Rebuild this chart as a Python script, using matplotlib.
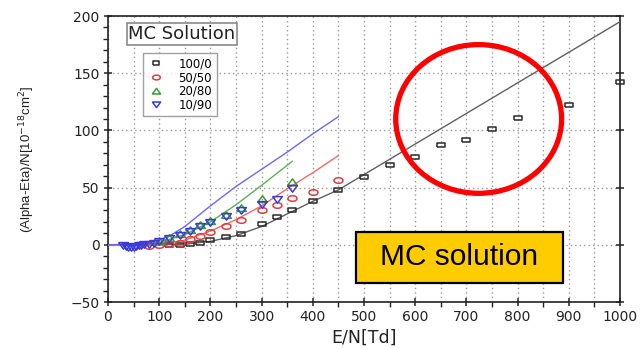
import matplotlib
matplotlib.use("Agg")
import matplotlib.pyplot as plt
import numpy as np
from matplotlib.lines import Line2D
from matplotlib.patches import Ellipse, Rectangle
from matplotlib.ticker import MultipleLocator

plt.rcParams["font.family"] = "DejaVu Sans"

# 100/0 mixture: MC points and fitted curve
sq_x = [120, 140, 160, 180, 200, 230, 260, 300, 330, 360, 400, 450, 500,
        550, 600, 650, 700, 750, 800, 900, 1000]
sq_y = [-0.5, 0, 0.5, 2, 4, 7, 9.5, 18.5, 24, 30, 38.5, 48, 59,
        70, 77, 87, 92, 101, 111, 122, 142]
sq_fit_x = [0, 100, 150, 200, 250, 300, 350, 400, 450, 1000]
sq_fit_y = [0, 0, 0.5, 3, 8, 16, 27, 38, 48, 195]

# 50/50 mixture
ci_x = [80, 100, 120, 140, 160, 180, 200, 230, 260, 300, 330, 360, 400, 450]
ci_y = [-1, -0.5, 0.5, 2, 5, 8, 11.5, 16.5, 22, 30, 35, 40.5, 46, 56.5]
ci_fit_x = [0, 80, 100, 150, 200, 250, 300, 350, 400, 450]
ci_fit_y = [0, 0, 0.5, 4, 12, 22, 34, 49, 63, 78]

# 20/80 mixture
tu_x = [100, 120, 140, 160, 180, 200, 230, 260, 300, 360]
tu_y = [3, 6, 9.5, 13, 17, 21, 26, 32.5, 40, 54.5]
tu_fit_x = [0, 80, 100, 150, 200, 250, 300, 360]
tu_fit_y = [0, 0.5, 2, 9, 20, 35, 52, 73]

# 10/90 mixture
td_x = [30, 35, 40, 45, 50, 55, 60, 65, 70, 80, 90, 100, 120, 140, 160,
        180, 200, 230, 260, 300, 330, 360]
td_y = [0, -1, -2, -2, -1.5, -1, -0.5, 0, 0.5, 1, 2, 3.5, 6, 9, 12,
        16, 20, 25, 30, 36, 40, 50]
td_fit_x = [0, 50, 100, 125, 150, 175, 200, 250, 300, 350, 400, 450]
td_fit_y = [0, 0.5, 4, 9, 16, 25, 34, 51, 66, 81, 97, 112]

labels = ["100/0", "50/50", "20/80", "10/90"]

# slightly flattened marker shapes
t = np.linspace(0, 2 * np.pi, 40)
m_square = [(-1, -0.62), (1, -0.62), (1, 0.62), (-1, 0.62), (-1, -0.62)]
m_circle = list(zip(np.cos(t), 0.62 * np.sin(t)))
m_up = [(-1, -0.6), (1, -0.6), (0, 0.75), (-1, -0.6)]
m_down = [(-1, 0.6), (1, 0.6), (0, -0.75), (-1, 0.6)]

series = [
    (sq_x, sq_y, sq_fit_x, sq_fit_y, m_square, "#2b2b2b", "#606060", 5.8),
    (ci_x, ci_y, ci_fit_x, ci_fit_y, m_circle, "#e23c3c", "#ee6a6a", 6.5),
    (tu_x, tu_y, tu_fit_x, tu_fit_y, m_up, "#3a9a3a", "#5cb05c", 7),
    (td_x, td_y, td_fit_x, td_fit_y, m_down, "#3a3ad8", "#6a6aee", 7),
]

fig = plt.figure(figsize=(6.4, 3.49), dpi=100)
ax = fig.add_axes([108 / 640, 1 - 302 / 349, 512 / 640, 286 / 349])

handles = []
for x, y, fx, fy, mk, mc, lc, ms in series:
    ax.plot(fx, fy, color=lc, lw=1.0, zorder=3)
    ax.plot(x, y, ls="none", marker=mk, ms=ms, mfc="none", mec=mc,
            mew=1.1, zorder=4, clip_on=False)
    handles.append(Line2D([], [], ls="none", marker=mk, ms=ms * 0.85,
                          mfc="none", mec=mc, mew=1.1))

ax.set_xlim(0, 1000)
ax.set_ylim(-50, 200)
ax.xaxis.set_major_locator(MultipleLocator(100))
ax.xaxis.set_minor_locator(MultipleLocator(50))
ax.yaxis.set_major_locator(MultipleLocator(50))
ax.yaxis.set_minor_locator(MultipleLocator(10))
ax.grid(which="major", color="#9a9a9a", ls=(0, (1, 2.2)), lw=1.0)
ax.grid(which="minor", axis="x", color="#9a9a9a", ls=(0, (1, 2.2)), lw=1.0)
ax.set_axisbelow(True)

ax.tick_params(which="major", direction="inout", length=6, width=1.1,
               labelsize=10, colors="#222222", right=True, pad=3)
ax.tick_params(which="minor", direction="out", length=3.5, width=1.0,
               right=False, colors="#222222")
ax.tick_params(axis="y", which="major", right=True, labelright=False)
for s in ax.spines.values():
    s.set_linewidth(1.2)
    s.set_color("#222222")

ax.set_xlabel("E/N[Td]", fontsize=12.5, color="#222222", labelpad=3)
ax.set_ylabel("(Alpha-Eta)/N[10$^{-18}$cm$^{2}$]", fontsize=9.5,
              family="Liberation Sans", color="#222222", va="center")
ax.yaxis.set_label_coords(-0.158, 0.5)

leg = ax.legend(handles, labels, loc="upper left",
                bbox_to_anchor=(0.068, 0.871), borderaxespad=0,
                fontsize=8.5, frameon=True, fancybox=False, handlelength=1.4,
                handletextpad=1.2, labelspacing=0.05, borderpad=0.4)
leg.get_frame().set_edgecolor("#8a8a8a")
leg.get_frame().set_linewidth(1.0)
leg.set_zorder(6)

ax.text(0.1445, 0.937, "MC Solution", transform=ax.transAxes, fontsize=13,
        ha="center", va="center", color="#222222", zorder=6,
        bbox=dict(boxstyle="square,pad=0.1", fc="white", ec="#8a8a8a", lw=1.2))

# highlight ring around the high-field points
ax.add_patch(Ellipse((724, 110), 324, 130, fill=False, ec="#ff0000", lw=3.8,
                     zorder=7, clip_on=False))

# callout box
fig.add_artist(Rectangle((356 / 640, 1 - 283 / 349), 207 / 640, 51 / 349,
                         transform=fig.transFigure, fc="#ffcc00", ec="black",
                         lw=1.6, zorder=8))
fig.text(459 / 640, 1 - 257 / 349, "MC solution", fontsize=21.5,
         family="Liberation Sans", ha="center", va="center", zorder=9)

fig.savefig("out.png", dpi=100, facecolor="white")
